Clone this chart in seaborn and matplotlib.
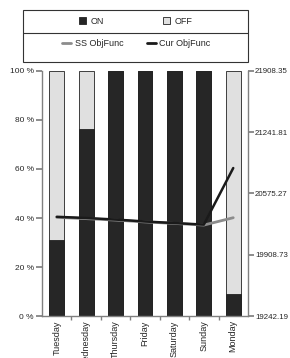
import matplotlib
matplotlib.use("Agg")
import matplotlib.pyplot as plt
import seaborn as sns
import pandas as pd
import numpy as np
from matplotlib.patches import Rectangle
from matplotlib.lines import Line2D

sns.set_theme(style="white")
plt.rcParams['font.family'] = ['Liberation Sans', 'DejaVu Sans']

days = ["Tuesday", "Wednesday", "Thursday", "Friday", "Saturday", "Sunday", "Monday"]
on_pct = [31, 76.5, 100, 100, 100, 100, 9]
off_pct = [100 - v for v in on_pct]
ss_obj = [20316, 20302, 20286, 20266, 20250, 20232, 20312]
cur_obj = [20322, 20309, 20292, 20271, 20254, 20237, 20852]
left_ticks = [0, 20, 40, 60, 80, 100]
left_labels = ["0 %", "20 %", "40 %", "60 %", "80 %", "100 %"]
right_ticks = [19242.19, 19908.73, 20575.27, 21241.81, 21908.35]
right_labels = ["19242.19", "19908.73", "20575.27", "21241.81", "21908.35"]

ON_C = "#262626"
OFF_C = "#e0e0e0"
SPINE = "#808080"

df = pd.DataFrame({"day": days, "on": on_pct, "total": [100] * len(days),
                   "ss": ss_obj, "cur": cur_obj})

fig = plt.figure(figsize=(2.90, 3.58), dpi=100)
ax = fig.add_axes([0.145, 0.117, 0.71, 0.685])

sns.barplot(data=df, x="day", y="total", color=OFF_C, width=0.5, ax=ax,
            edgecolor="#222222", linewidth=0.6, saturation=1, order=days)
sns.barplot(data=df, x="day", y="on", color=ON_C, width=0.5, ax=ax,
            edgecolor="#222222", linewidth=0.6, saturation=1, order=days)

ax.set_ylim(0, 100)
ax.set_xlim(-0.5, len(days) - 0.5)
ax.set_yticks(left_ticks)
ax.set_yticklabels(left_labels)
ax.set_xlabel("")
ax.set_ylabel("")
ax.set_xticks(range(len(days)))
ax.set_xticklabels(days, rotation=90)
ax.set_xticks(np.arange(0.5, len(days) - 0.5, 1), minor=True)
ax.tick_params(axis="x", which="major", length=0, labelsize=6.5, pad=3)
ax.tick_params(axis="x", which="minor", length=3, color=SPINE, direction="out", bottom=True)
ax.tick_params(axis="y", length=4, color=SPINE, direction="out", labelsize=6, pad=2, left=True)
for s in ["top", "right"]:
    ax.spines[s].set_visible(False)
for s in ["left", "bottom"]:
    ax.spines[s].set_color(SPINE)
    ax.spines[s].set_linewidth(1.0)

ax2 = ax.twinx()
sns.lineplot(x=np.arange(len(days)), y=df["ss"], ax=ax2, color="#8c8c8c", linewidth=2.0)
sns.lineplot(x=np.arange(len(days)), y=df["cur"], ax=ax2, color="#1a1a1a", linewidth=1.8)
ax2.set_ylim(right_ticks[0], right_ticks[-1])
ax2.set_yticks(right_ticks)
ax2.set_yticklabels(right_labels)
ax2.set_ylabel("")
ax2.tick_params(axis="y", length=4, color=SPINE, direction="out", labelsize=5.7, pad=1, right=True)
for s in ["top", "left", "bottom"]:
    ax2.spines[s].set_visible(False)
ax2.spines["right"].set_color(SPINE)
ax2.spines["right"].set_linewidth(1.0)
ax2.set_xlim(-0.5, len(days) - 0.5)

# legend box
x0, x1 = 23 / 290, 248 / 290
y0, y1 = 1 - 62 / 358, 1 - 10 / 358
fig.patches.append(Rectangle((x0, y0), x1 - x0, y1 - y0, transform=fig.transFigure,
                             fill=False, edgecolor="#333333", linewidth=0.8))
fig.lines.append(Line2D([x0, x1], [1 - 33 / 358] * 2, transform=fig.transFigure,
                        color="#333333", linewidth=0.8))

h1 = [Rectangle((0, 0), 1, 1, facecolor=ON_C, edgecolor="#222222", linewidth=0.6),
      Rectangle((0, 0), 1, 1, facecolor=OFF_C, edgecolor="#222222", linewidth=0.6)]
leg1 = fig.legend(h1, ["ON", "OFF"], ncol=2, loc="center", bbox_to_anchor=(0.468, 1 - 21 / 358),
                  frameon=False, fontsize=6.5, handlelength=0.8, handleheight=0.8,
                  columnspacing=6.5, handletextpad=0.5)
h2 = [Line2D([], [], color="#8c8c8c", linewidth=2.0), Line2D([], [], color="#1a1a1a", linewidth=2.0)]
leg2 = fig.legend(h2, ["SS ObjFunc", "Cur ObjFunc"], ncol=2, loc="center",
                  bbox_to_anchor=(0.47, 1 - 44 / 358), frameon=False, fontsize=6.5,
                  handlelength=1.0, handletextpad=0.4, columnspacing=2.6)

fig.savefig("out.png", dpi=100)
